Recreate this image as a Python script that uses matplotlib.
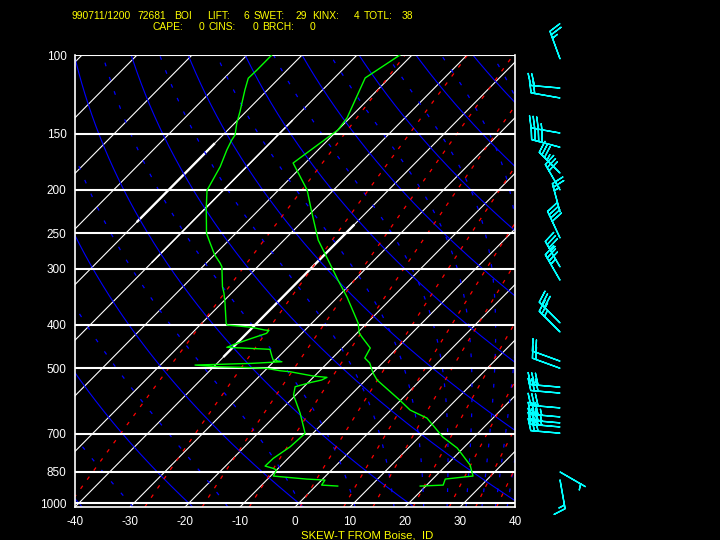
import numpy as np
import matplotlib
matplotlib.use("Agg")
import matplotlib.pyplot as plt

# sounding (hPa, degC)
temp_p = [100, 112.5, 138.2, 147.0, 174.2, 200.1, 224.1, 258.7, 317.8, 346.8,
          396.4, 417.3, 425.9, 450.7, 474.4, 486.8, 512.5, 531.3, 588.8, 619.9,
          645.9, 712.1, 753.5, 822.3, 870.1, 874.6, 883.7, 911.4, 916.0]
temp_t = [-62.2, -64.4, -60.5, -60.0, -62.2, -54.8, -50.0, -43.8, -33.0, -28.3,
          -21.6, -19.6, -18.4, -14.9, -14.1, -12.3, -9.9, -7.9, -0.2, 3.5,
          8.0, 14.3, 18.9, 24.3, 26.8, 25.2, 22.3, 23.0, 19.0]

dew_p = [100, 108.0, 112.7, 119.7, 133.8, 142.0, 150.8, 154.8, 162.9, 177.5,
         198.4, 200.1, 219.5, 250.0, 262.8, 279.5, 291.2, 296.8, 328.9, 339.7,
         357.7, 396.4, 400.5, 402.5, 405.2, 410.9, 411.5, 417.9, 428.8, 441.5,
         449.1, 450.7, 453.7, 471.3, 479.4, 483.6, 487.6, 491.9, 496.2, 497.7,
         500.3, 506.5, 509.1, 520.5, 524.0, 531.3, 538.2, 549.9, 573.8, 630.4,
         698.7, 748.5, 794.5, 826.5, 836.4, 843.7, 870.1, 883.7, 888.2, 911.4,
         916.0]
dew_t = [-85.5, -85.5, -85.6, -84.1, -81.1, -79.6, -77.8, -77.5, -76.6, -74.8,
         -73.1, -73.0, -69.9, -65.3, -62.9, -59.9, -57.5, -56.5, -52.8, -51.4,
         -49.4, -45.6, -45.1, -42.8, -40.2, -37.3, -36.5, -36.4, -38.2, -40.2,
         -41.1, -38.0, -32.9, -31.2, -30.4, -28.5, -33.7, -43.7, -39.2, -35.1,
         -30.1, -27.2, -25.2, -20.2, -17.5, -18.0, -19.6, -21.6, -20.4, -15.9,
         -11.4, -11.7, -12.7, -12.8, -10.9, -10.0, -9.5, -2.9, 0.6, 0.9,
         4.0]

# winds: pressure, direction (deg), speed (kt)
wind_p = [102, 118.5, 124.7, 149.3, 160.6, 183.4, 200, 224, 256, 297, 318,
          396, 415, 482, 500, 551, 568, 613, 642, 662, 676, 698, 852, 887]
wind_dir = [340, 275, 280, 280, 285, 315, 330, 345, 335, 330, 330,
            315, 315, 290, 290, 275, 275, 275, 275, 275, 275, 275, 120, 170]
wind_spd = [25, 20, 20, 35, 40, 35, 30, 25, 40, 35, 35,
            30, 25, 20, 20, 30, 30, 30, 35, 35, 35, 30, 5, 15]

isobars = [100, 150, 200, 250, 300, 400, 500, 700, 850, 1000]
temp_ticks = [-40, -30, -20, -10, 0, 10, 20, 30, 40]
isotherms = np.arange(-130, 50, 10)
dry_theta = np.arange(213.15, 500, 20)
moist_thetae = np.arange(243.15, 480, 20)
mix_ratios = [0.1, 0.4, 1, 2, 4, 7, 10, 16, 24, 32, 40]

header1 = [("990711/1200", 71.7), ("72681", 137.3), ("BOI", 174), ("LIFT:", 206.7),
           ("6", 244), ("SWET:", 253.3), ("29", 296), ("KINX:", 311.7),
           ("4", 354), ("TOTL:", 363.3), ("38", 401.7)]
header2 = [("CAPE:", 152.7), ("0", 199), ("CINS:", 208.3), ("0", 252.7),
           ("BRCH:", 261.7), ("0", 309.3)]

P_BOT = 1020.0
SKEW = 35.0
FONT = "Liberation Sans"


def skx(t, p):
    return np.asarray(t) + SKEW * np.log(P_BOT / np.asarray(p))


def sat_vp(t):
    return 6.112 * np.exp(17.67 * t / (t + 243.5))


def theta_e(t, p):
    e = sat_vp(t)
    rs = 0.622 * e / (p - e)
    tk = t + 273.15
    return tk * (1000.0 / p) ** 0.286 * np.exp(2.5e6 * rs / (1004.0 * tk))


fig = plt.figure(figsize=(7.2, 5.4), dpi=100, facecolor="black")
ax = fig.add_axes([75 / 720, 33 / 540, 440 / 720, 452 / 540])
ax.set_facecolor("black")
ax.set_yscale("log")
ax.set_ylim(P_BOT, 100)
ax.set_xlim(-40, 40)

pp = np.geomspace(P_BOT, 100, 300)

# isotherms, a couple drawn heavier over part of their length
for t in isotherms:
    ax.plot(skx(np.full_like(pp, t), pp), pp, color="white", lw=0.8)
for t, lo, hi, w in [(-40, 240, 470, 1.7), (-80, 158, 235, 1.7), (-70, 140, 290, 1.05)]:
    seg = np.geomspace(hi, lo, 50)
    ax.plot(skx(np.full_like(seg, t), seg), seg, color="white", lw=w)

# dry adiabats
for th in dry_theta:
    ax.plot(skx(th * (pp / 1000.0) ** 0.286 - 273.15, pp), pp, color="#0000ff", lw=0.8)

# moist adiabats (constant theta-e)
tgrid = np.linspace(-160, 50, 2000)
for the in moist_thetae:
    tl = []
    for p in pp:
        ok = sat_vp(tgrid) < 0.3 * p
        tl.append(np.interp(the, theta_e(tgrid[ok], p), tgrid[ok],
                            left=np.nan, right=np.nan))
    ax.plot(skx(np.array(tl), pp), pp, color="#0000ff", lw=0.9,
            linestyle=(0, (3, 9)))

# mixing ratio lines
for w in mix_ratios:
    e = w * pp / (622.0 + w)
    lg = np.log(e / 6.112)
    td = 243.5 * lg / (17.67 - lg)
    ax.plot(skx(td, pp), pp, color="#ff0000", lw=0.9, linestyle=(0, (3, 6)))

# isobars
for p in isobars:
    ax.axhline(p, color="white", lw=1.5)

# sounding
ax.plot(skx(temp_t, temp_p), temp_p, color="#00ff00", lw=1.0)
ax.plot(skx(dew_t, dew_p), dew_p, color="#00ff00", lw=1.0)

for s in ax.spines.values():
    s.set_color("white")
    s.set_linewidth(1.2)
ax.spines["top"].set_visible(False)

ax.set_yticks(isobars)
ax.set_yticklabels([str(p) for p in isobars])
ax.yaxis.set_minor_locator(plt.NullLocator())
ax.set_xticks(temp_ticks)
ax.set_xticklabels([str(t) for t in temp_ticks])
ax.tick_params(axis="both", length=0, colors="white", labelsize=8.5)
ax.tick_params(axis="y", pad=6)
ax.tick_params(axis="x", pad=6.5)
for lab in ax.get_xticklabels() + ax.get_yticklabels():
    lab.set_fontfamily(FONT)

# wind barbs column
bx = fig.add_axes([530 / 720, 33 / 540, 60 / 720, 452 / 540])
bx.set_yscale("log")
bx.set_ylim(P_BOT, 100)
bx.set_xlim(-1, 1)
bx.axis("off")
wd = np.radians(wind_dir)
u = -np.array(wind_spd) * np.sin(wd)
v = -np.array(wind_spd) * np.cos(wd)
bx.barbs(np.zeros(len(wind_p)), wind_p, u, v, color="#00ffff", length=6.5,
         linewidth=1.0, sizes=dict(emptybarb=0), clip_on=False)

# header and title
for txt, x in header1:
    fig.text(x / 720, 1 - 19 / 540, txt, color="#ffff00", fontsize=7.4,
             family=FONT, va="baseline")
for txt, x in header2:
    fig.text(x / 720, 1 - 29.5 / 540, txt, color="#ffff00", fontsize=7.4,
             family=FONT, va="baseline")
fig.text(300.7 / 720, 1 - 538 / 540, "SKEW-T FROM Boise,_ID", color="#ffff00",
         fontsize=8.2, family=FONT, va="baseline")

fig.savefig("out.png", dpi=100, facecolor="black")
